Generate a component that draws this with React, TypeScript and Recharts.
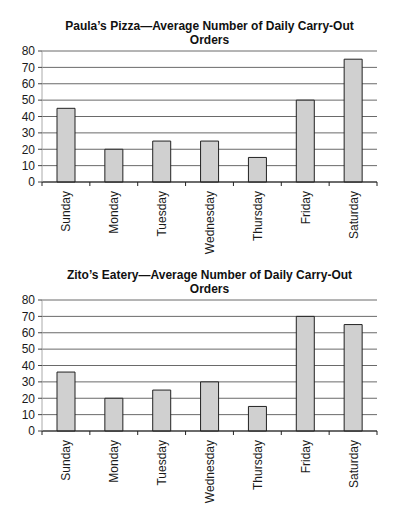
import React from "react";
import { BarChart, Bar, XAxis, YAxis, CartesianGrid } from "recharts";

const days = ["Sunday", "Monday", "Tuesday", "Wednesday", "Thursday", "Friday", "Saturday"];
const paulaOrders = [45, 20, 25, 25, 15, 50, 75];
const zitoOrders = [36, 20, 25, 30, 15, 70, 65];
const yTicks = [0, 10, 20, 30, 40, 50, 60, 70, 80];
const paulaTitle = ["Paula\u2019s Pizza\u2014Average Number of Daily Carry-Out", "Orders"];
const zitoTitle = ["Zito\u2019s Eatery\u2014Average Number of Daily Carry-Out", "Orders"];

const FONT = "'Liberation Sans', Arial, sans-serif";

const DayTick = (props: any) => {
  const { x, y, payload, index, width, visibleTicksCount } = props;
  const band = payload && payload.offset ? payload.offset * 2 : width / (visibleTicksCount || days.length);
  const half = band / 2;
  return (
    <g>
      <line x1={x - half} x2={x - half} y1={y} y2={y + 4} stroke="#222" strokeWidth={1} />
      {index === days.length - 1 && (
        <line x1={x + half} x2={x + half} y1={y} y2={y + 4} stroke="#222" strokeWidth={1} />
      )}
      <text
        transform={`translate(${x + 4.5},${y + 9}) rotate(-90)`}
        textAnchor="end"
        fontSize={12}
        fontFamily={FONT}
        fill="#1a1a1a"
      >
        {payload.value}
      </text>
    </g>
  );
};

const Panel = ({ title, values, top }: { title: string[]; values: number[]; top: number }) => {
  const data = days.map((d, i) => ({ day: d, orders: values[i] }));
  return (
    <div style={{ position: "absolute", left: 0, top, width: 399, height: 260 }}>
      <div
        style={{
          position: "absolute",
          left: 32,
          width: 355,
          top: 19,
          textAlign: "center",
          fontFamily: FONT,
          fontWeight: "bold",
          fontSize: 12,
          lineHeight: "14px",
          color: "#111",
        }}
      >
        {title[0]}
        <br />
        {title[1]}
      </div>
      <BarChart
        width={399}
        height={260}
        data={data}
        margin={{ top: 51, right: 22, bottom: 0, left: 0 }}
        barSize={18}
      >
        <CartesianGrid vertical={false} stroke="#6a6a6a" strokeWidth={1} />
        <XAxis
          dataKey="day"
          tickLine={false}
          tickSize={0}
          tickMargin={0}
          interval={0}
          height={78}
          axisLine={{ stroke: "#222" }}
          tick={<DayTick />}
        />
        <YAxis
          domain={[0, 80]}
          ticks={yTicks}
          interval={0}
          width={42}
          tickSize={4}
          tickMargin={3}
          axisLine={{ stroke: "#aaa" }}
          tickLine={{ stroke: "#444" }}
          tick={{ fontSize: 12, fontFamily: FONT, fill: "#1a1a1a" }}
        />
        <YAxis
          yAxisId="right"
          orientation="right"
          domain={[0, 80]}
          width={0}
          tick={false}
          tickLine={false}
          axisLine={{ stroke: "#222" }}
        />
        <Bar dataKey="orders" fill="#d0d0d0" stroke="#222" strokeWidth={1} isAnimationActive={false} />
      </BarChart>
    </div>
  );
};

export default function App() {
  return (
    <div style={{ position: "absolute", left: 0, top: 0, width: 399, height: 518, background: "#fff" }}>
      <Panel title={paulaTitle} values={paulaOrders} top={0} />
      <Panel title={zitoTitle} values={zitoOrders} top={249} />
    </div>
  );
}
